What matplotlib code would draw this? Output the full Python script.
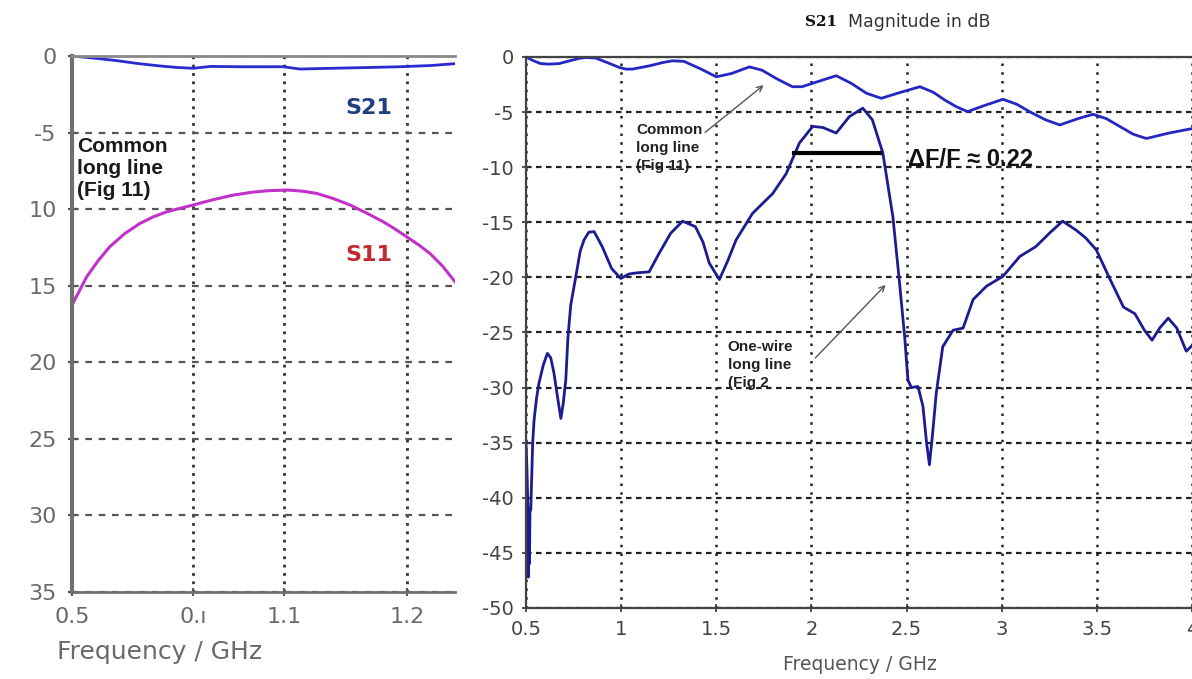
import matplotlib
matplotlib.use("Agg")
import matplotlib.pyplot as plt
from matplotlib import font_manager

# ---- left panel: common long line (positions on a hand-drawn x scale) ----
left_xticks = [0.5, 0.753, 0.943, 1.2]
left_xticklabels = ["0.5", "0.ı", "1.1", "1.2"]
left_yticks = [0, -5, -10, -15, -20, -25, -30, -35]
left_yticklabels = ["0", "-5", "10", "15", "20", "25", "30", "35"]

left_s21_x = [0.5, 0.55, 0.593, 0.64, 0.684, 0.72, 0.753, 0.79, 0.85, 0.9, 0.941, 0.976, 1.045, 1.12, 1.185, 1.25, 1.3]
left_s21_y = [0.0, -0.15, -0.3, -0.5, -0.65, -0.75, -0.8, -0.68, -0.7, -0.7, -0.7, -0.85, -0.8, -0.75, -0.7, -0.62, -0.5]

left_s11_x = [0.5, 0.531, 0.555, 0.579, 0.61, 0.642, 0.67, 0.698, 0.725, 0.753, 0.795, 0.837, 0.875, 0.907,
              0.949, 0.98, 1.011, 1.045, 1.081, 1.115, 1.15, 1.175, 1.199, 1.225, 1.248, 1.275, 1.3]
left_s11_y = [-16.26, -14.4, -13.35, -12.45, -11.6, -10.93, -10.5, -10.17, -9.95, -9.73, -9.38, -9.08, -8.9, -8.8,
              -8.75, -8.82, -8.97, -9.3, -9.73, -10.25, -10.82, -11.3, -11.8, -12.35, -12.9, -13.75, -14.74]

# ---- right panel: S21 magnitude in dB ----
common_f = [0.5, 0.54, 0.577, 0.62, 0.674, 0.74, 0.78, 0.814, 0.867, 0.94, 0.99, 1.025, 1.06, 1.15, 1.22, 1.27,
            1.33, 1.42, 1.5, 1.58, 1.674, 1.74, 1.82, 1.9, 1.95, 2.04, 2.13, 2.21, 2.29, 2.367, 2.47, 2.57,
            2.64, 2.7, 2.76, 2.82, 2.91, 3.007, 3.08, 3.15, 3.23, 3.305, 3.4, 3.48, 3.55, 3.62, 3.69, 3.76,
            3.88, 4.0]
common_db = [0.0, -0.35, -0.6, -0.65, -0.6, -0.3, -0.12, -0.05, -0.1, -0.6, -0.95, -1.1, -1.1, -0.8, -0.5, -0.35,
             -0.4, -1.1, -1.8, -1.5, -0.9, -1.2, -2.0, -2.7, -2.7, -2.2, -1.7, -2.4, -3.3, -3.75, -3.2, -2.7,
             -3.2, -3.9, -4.5, -4.96, -4.4, -3.84, -4.3, -5.0, -5.7, -6.17, -5.6, -5.2, -5.6, -6.3, -7.0, -7.4,
             -6.9, -6.5]

onewire_f = [0.5, 0.505, 0.51, 0.512, 0.515, 0.518, 0.521, 0.525, 0.535, 0.542, 0.555, 0.568, 0.59, 0.612, 0.63,
             0.647, 0.665, 0.683, 0.695, 0.709, 0.72, 0.735, 0.762, 0.785, 0.805, 0.83, 0.858, 0.9, 0.95, 0.998,
             1.04, 1.077, 1.147, 1.2, 1.26, 1.323, 1.39, 1.43, 1.463, 1.516, 1.56, 1.604, 1.69, 1.796, 1.867,
             1.937, 2.007, 2.06, 2.13, 2.2, 2.27, 2.32, 2.375, 2.428, 2.463, 2.49, 2.507, 2.525, 2.56, 2.586,
             2.605, 2.62, 2.635, 2.656, 2.69, 2.744, 2.797, 2.85, 2.92, 3.007, 3.095, 3.18, 3.25, 3.32, 3.39,
             3.44, 3.497, 3.57, 3.64, 3.70, 3.75, 3.79, 3.83, 3.875, 3.92, 3.97, 4.0]
onewire_db = [-35.0, -37.5, -41.0, -47.2, -41.5, -46.0, -41.0, -41.1, -35.0, -33.0, -31.0, -29.6, -28.0, -26.9, -27.3,
              -28.7, -30.8, -32.8, -31.5, -29.3, -25.5, -22.5, -19.9, -17.6, -16.6, -15.9, -15.85, -17.2, -19.2, -20.1,
              -19.7, -19.6, -19.5, -17.8, -16.0, -14.9, -15.4, -16.8, -18.7, -20.2, -18.5, -16.6, -14.2, -12.4, -10.6,
              -7.8, -6.3, -6.4, -6.9, -5.4, -4.65, -5.7, -8.7, -14.5, -20.5, -25.4, -29.3, -30.0, -29.9, -31.7,
              -35.0, -37.0, -34.5, -30.5, -26.3, -24.8, -24.6, -22.0, -20.8, -19.9, -18.1, -17.2, -16.0, -14.9, -15.7,
              -16.4, -17.5, -20.2, -22.7, -23.3, -24.8, -25.7, -24.6, -23.7, -24.6, -26.7, -26.2]

band_f = [1.91, 2.36]
band_db = [-8.74, -8.74]

right_xticks = [0.5, 1, 1.5, 2, 2.5, 3, 3.5, 4]
right_xticklabels = ["0.5", "1", "1.5", "2", "2.5", "3", "3.5", "4"]
right_yticks = [0, -5, -10, -15, -20, -25, -30, -35, -40, -45, -50]


def pick_font(*names):
    have = {f.name for f in font_manager.fontManager.ttflist}
    for n in names:
        if n in have:
            return n
    return "DejaVu Sans"


narrow = pick_font("Liberation Sans Narrow", "Arial Narrow", "Liberation Sans")
plt.rcParams["font.family"] = "DejaVu Sans"
plt.rcParams["axes.unicode_minus"] = False

fig = plt.figure(figsize=(11.92, 6.79), dpi=100)

# ---------------- left panel ----------------
ax1 = fig.add_axes([0.0604, 0.1281, 0.3213, 0.7894])
ax1.plot(left_s21_x, left_s21_y, color="#2a2ad0", lw=2)
ax1.plot(left_s11_x, left_s11_y, color="#c032c8", lw=2.2)
ax1.set_xlim(0.5, 1.3)
ax1.set_ylim(-35, 0)
ax1.set_xticks(left_xticks)
ax1.set_xticklabels(left_xticklabels)
ax1.set_yticks(left_yticks)
ax1.set_yticklabels(left_yticklabels)
ax1.tick_params(labelsize=16, labelcolor="#6a6a6a", color="#555555", direction="inout", length=6, width=1.5, pad=8)
ax1.yaxis.grid(True, color="#555555", lw=1.6, linestyle=(0, (3, 3)))
ax1.xaxis.grid(True, color="#333333", lw=2, linestyle=(0, (1, 2)))
ax1.set_axisbelow(True)
ax1.spines["right"].set_visible(False)
ax1.spines["left"].set_color("#707070")
ax1.spines["left"].set_linewidth(3)
ax1.spines["bottom"].set_color("#707070")
ax1.spines["bottom"].set_linewidth(2)
ax1.spines["top"].set_color("#8a8a8a")
ax1.spines["top"].set_linewidth(2)
ax1.text(1.12, -3.4, "S21", color="#1f3f80", fontsize=16, fontweight="bold", ha="center", va="center")
ax1.text(1.12, -13.0, "S11", color="#c02a30", fontsize=16, fontweight="bold", ha="center", va="center")
ax1.text(0.511, -5.3, "Common\nlong line\n(Fig 11)", family=narrow, fontsize=15, fontweight="bold",
         color="#1a1a1a", ha="left", va="top", linespacing=1.2)
fig.text(160 / 1192, 1 - 652 / 679, "Frequency / GHz", ha="center", va="center", fontsize=18, color="#6a6a6a")

# ---------------- right panel ----------------
ax2 = fig.add_axes([0.4413, 0.1046, 0.5587, 0.8115])
ax2.plot(common_f, common_db, color="#2626c4", lw=2)
ax2.plot(onewire_f, onewire_db, color="#1c1c90", lw=2)
ax2.plot(band_f, band_db, color="black", lw=3)
ax2.set_xlim(0.5, 4.0)
ax2.set_ylim(-50, 0)
ax2.set_xticks(right_xticks)
ax2.set_xticklabels(right_xticklabels)
ax2.set_yticks(right_yticks)
ax2.tick_params(labelsize=14, labelcolor="#444444", color="#333333", direction="inout", length=6, width=1.2, pad=6)
ax2.yaxis.grid(True, color="#222222", lw=1.6, linestyle=(0, (2.5, 2)))
ax2.xaxis.grid(True, color="#222222", lw=1.8, linestyle=(0, (1, 2.5)))
ax2.set_axisbelow(True)
ax2.spines["right"].set_visible(False)
for s in ("left", "bottom", "top"):
    ax2.spines[s].set_color("#444444")
    ax2.spines[s].set_linewidth(1.6)

ax2.text(2.51, -9.3, "ΔF/F ≈ 0.22", family=[narrow, "DejaVu Sans"], fontsize=17, fontweight="bold",
         color="#111111", ha="left", va="center")
ax2.text(1.08, -6.0, "Common\nlong line\n(Fig 11)", family=narrow, fontsize=11, fontweight="bold",
         color="#222222", ha="left", va="top", linespacing=1.35)
ax2.annotate("", xy=(1.76, -2.4), xytext=(1.43, -7.0),
             arrowprops=dict(arrowstyle="->", color="#555555", lw=1))
ax2.text(1.56, -25.7, "One-wire\nlong line\n(Fig 2", family=narrow, fontsize=11, fontweight="bold",
         color="#222222", ha="left", va="top", linespacing=1.35)
ax2.annotate("", xy=(2.4, -20.5), xytext=(2.01, -27.5),
             arrowprops=dict(arrowstyle="->", color="#555555", lw=1))

fig.text(805 / 1192, 1 - 22 / 679, "S21", family="DejaVu Serif", fontweight="bold", fontsize=11,
         ha="left", va="center", color="#111111")
fig.text(848 / 1192, 1 - 22 / 679, "Magnitude in dB", fontsize=12.5, ha="left", va="center", color="#333333")
fig.text(860 / 1192, 1 - 665 / 679, "Frequency / GHz", fontsize=13.5, ha="center", va="center", color="#555555")

fig.savefig("out.png", dpi=100)
